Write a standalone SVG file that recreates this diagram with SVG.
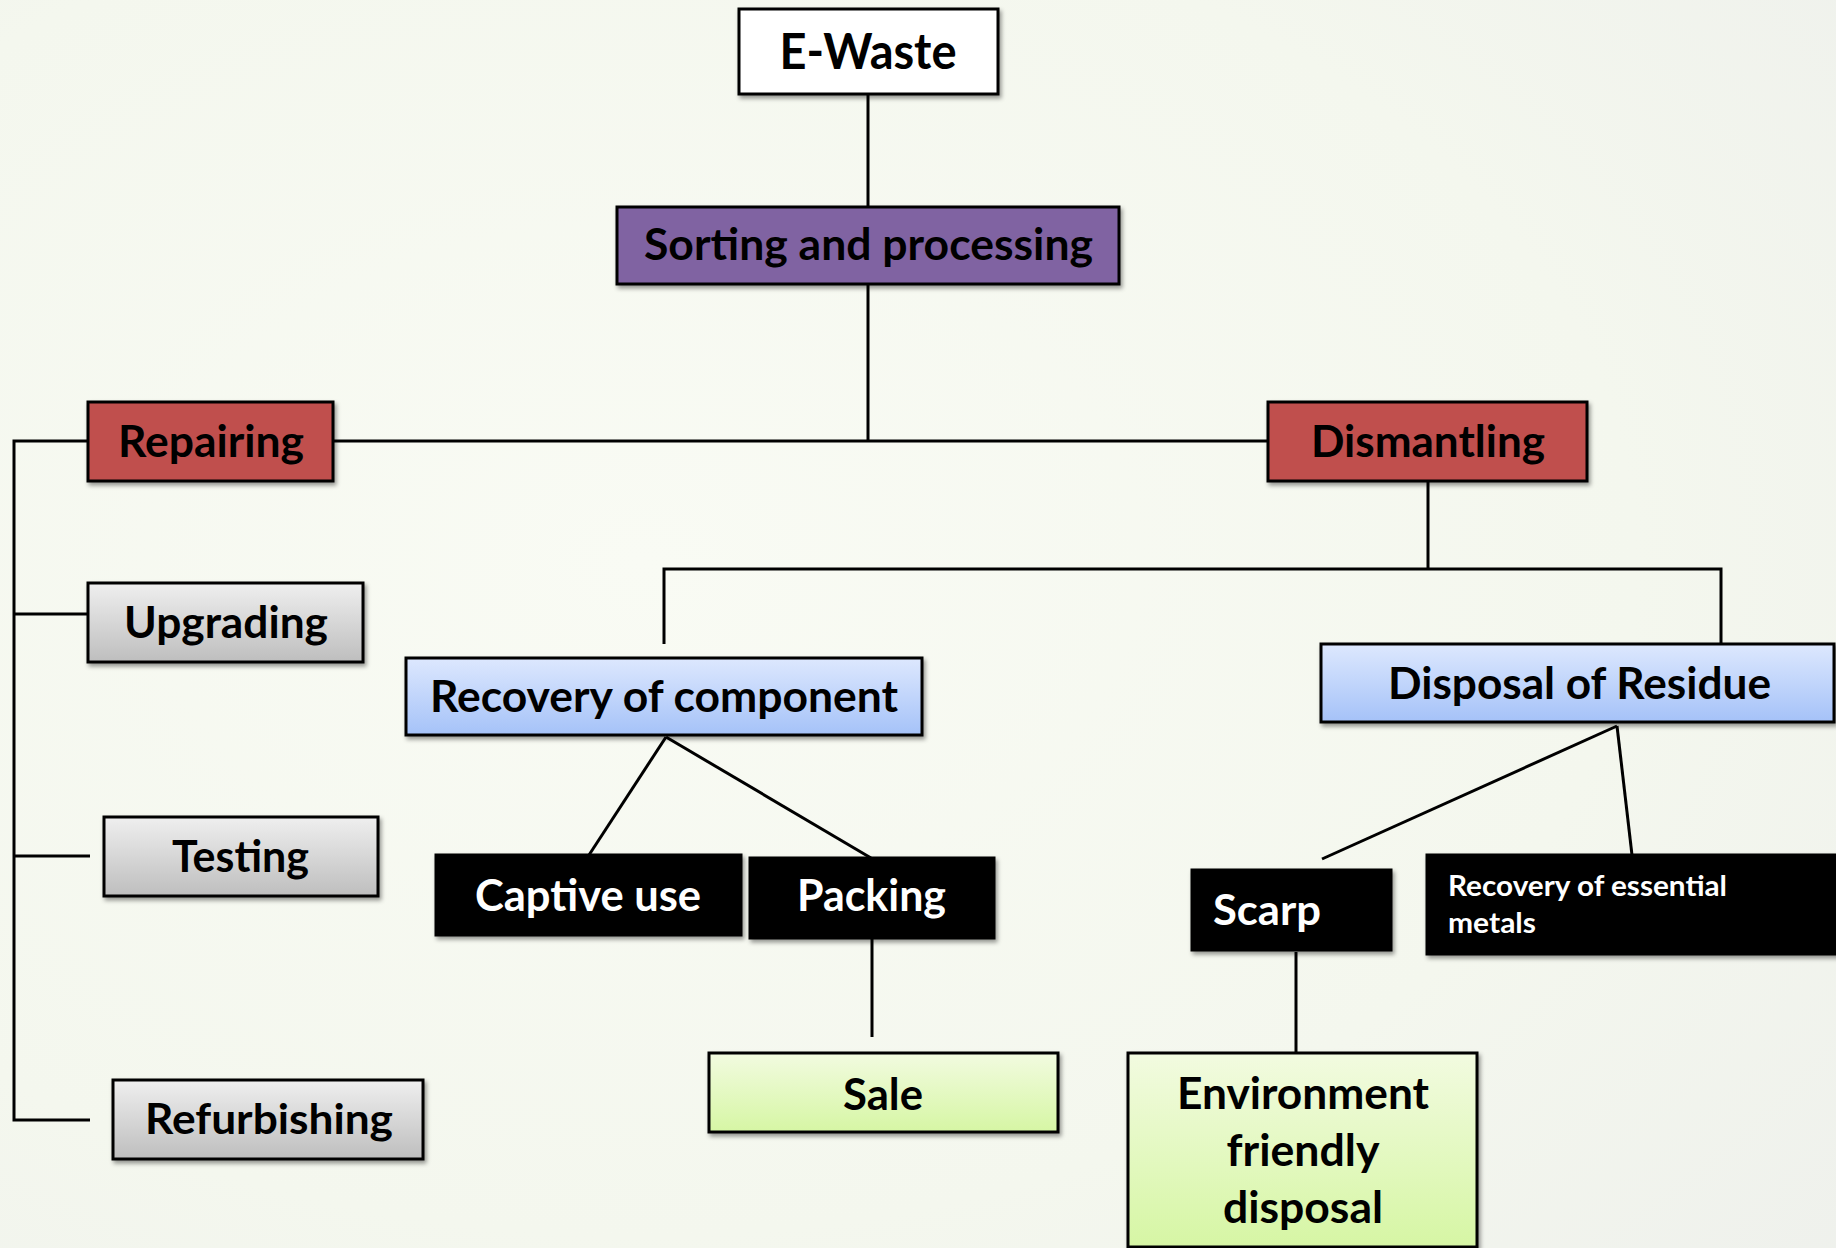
<svg xmlns="http://www.w3.org/2000/svg" width="1836" height="1248" viewBox="0 0 1836 1248">
  <defs>
    <radialGradient id="bg" cx="0.35" cy="0.45" r="0.9">
      <stop offset="0" stop-color="#f9fbf4"/>
      <stop offset="0.6" stop-color="#f4f7ee"/>
      <stop offset="1" stop-color="#eef0ec"/>
    </radialGradient>
    <linearGradient id="gGray" x1="0" y1="0" x2="0" y2="1">
      <stop offset="0" stop-color="#efefef"/>
      <stop offset="1" stop-color="#bebebe"/>
    </linearGradient>
    <linearGradient id="gBlue" x1="0" y1="0" x2="0" y2="1">
      <stop offset="0" stop-color="#dde8fe"/>
      <stop offset="1" stop-color="#a5c2f8"/>
    </linearGradient>
    <linearGradient id="gGreen" x1="0" y1="0" x2="0" y2="1">
      <stop offset="0" stop-color="#f2fbe0"/>
      <stop offset="1" stop-color="#d6f6a4"/>
    </linearGradient>
    <filter id="sh" x="-10%" y="-10%" width="125%" height="135%">
      <feDropShadow dx="2" dy="3" stdDeviation="2" flood-color="#000" flood-opacity="0.4"/>
    </filter>
  </defs>
  <style>
    .box { stroke: #000; stroke-width: 3; filter: url(#sh); }
    .t { font-family: Lato, "Open Sans", "Liberation Sans", sans-serif; font-weight: 700; fill: #000; text-anchor: middle; }
    .s { text-anchor: start; }
    .w { fill: #fff; }
    .red { fill: #c0504d; }
    .purple { fill: #8064a2; }
    .gray { fill: url(#gGray); }
    .blue { fill: url(#gBlue); }
    .green { fill: url(#gGreen); }
    .black { fill: #000; }
    .white { fill: #fff; }
    .c { fill: none; stroke: #000; stroke-width: 3; }
  </style>

  <rect x="0" y="0" width="1836" height="1248" fill="url(#bg)"/>

  <g id="connectors">
    <line class="c" x1="868" y1="94" x2="868" y2="207"/>
    <line class="c" x1="868" y1="284" x2="868" y2="441"/>
    <line class="c" x1="333" y1="441" x2="1268" y2="441"/>
    <polyline class="c" points="88,441 14,441 14,1120 90,1120"/>
    <line class="c" x1="14" y1="614" x2="88" y2="614"/>
    <line class="c" x1="14" y1="856" x2="90" y2="856"/>
    <line class="c" x1="1428" y1="481" x2="1428" y2="569"/>
    <polyline class="c" points="664,644 664,569 1721,569 1721,644"/>
    <line class="c" x1="666" y1="737" x2="589" y2="855"/>
    <line class="c" x1="666" y1="737" x2="871" y2="858"/>
    <line class="c" x1="872" y1="938" x2="872" y2="1037"/>
    <line class="c" x1="1617" y1="726" x2="1322" y2="859"/>
    <line class="c" x1="1617" y1="726" x2="1632" y2="855"/>
    <line class="c" x1="1296" y1="952" x2="1296" y2="1053"/>
  </g>

  <g id="ewaste">
    <rect class="box white" x="739" y="9" width="259" height="85"/>
    <text class="t" x="868" y="69" font-size="49" textLength="177" lengthAdjust="spacingAndGlyphs">E-Waste</text>
  </g>
  <g id="sorting">
    <rect class="box purple" x="617" y="207" width="502" height="77"/>
    <text class="t" x="868.5" y="260" font-size="43" textLength="449" lengthAdjust="spacingAndGlyphs">Sorting and processing</text>
  </g>
  <g id="repairing">
    <rect class="box red" x="88" y="402" width="245" height="79"/>
    <text class="t" x="211" y="457" font-size="44" textLength="186" lengthAdjust="spacingAndGlyphs">Repairing</text>
  </g>
  <g id="dismantling">
    <rect class="box red" x="1268" y="402" width="319" height="79"/>
    <text class="t" x="1428" y="457" font-size="43" textLength="234" lengthAdjust="spacingAndGlyphs">Dismantling</text>
  </g>
  <g id="upgrading">
    <rect class="box gray" x="88" y="583" width="275" height="79"/>
    <text class="t" x="226" y="638" font-size="44" textLength="204" lengthAdjust="spacingAndGlyphs">Upgrading</text>
  </g>
  <g id="testing">
    <rect class="box gray" x="104" y="817" width="274" height="79"/>
    <text class="t" x="240.5" y="872" font-size="43" textLength="137" lengthAdjust="spacingAndGlyphs">Testing</text>
  </g>
  <g id="refurbishing">
    <rect class="box gray" x="113" y="1080" width="310" height="79"/>
    <text class="t" x="269" y="1134" font-size="42" textLength="248" lengthAdjust="spacingAndGlyphs">Refurbishing</text>
  </g>
  <g id="recovery-component">
    <rect class="box blue" x="406" y="658" width="516" height="77"/>
    <text class="t" x="664" y="712" font-size="43" textLength="468" lengthAdjust="spacingAndGlyphs">Recovery of component</text>
  </g>
  <g id="disposal-residue">
    <rect class="box blue" x="1321" y="644" width="513" height="78"/>
    <text class="t" x="1579.5" y="699" font-size="43" textLength="383" lengthAdjust="spacingAndGlyphs">Disposal of Residue</text>
  </g>
  <g id="captive-use">
    <rect class="box black" x="436" y="855" width="305" height="80"/>
    <text class="t white" x="588" y="911" font-size="43" textLength="226" lengthAdjust="spacingAndGlyphs">Captive use</text>
  </g>
  <g id="packing">
    <rect class="box black" x="750" y="858" width="244" height="80"/>
    <text class="t white" x="871.5" y="911" font-size="43" textLength="149" lengthAdjust="spacingAndGlyphs">Packing</text>
  </g>
  <g id="scarp">
    <rect class="box black" x="1192" y="870" width="199" height="80"/>
    <text class="t white s" x="1213" y="925" font-size="42" textLength="108" lengthAdjust="spacingAndGlyphs">Scarp</text>
  </g>
  <g id="recovery-metals">
    <rect class="box black" x="1427" y="855" width="412" height="99"/>
    <text class="t white s" x="1448" y="896" font-size="28" textLength="279" lengthAdjust="spacingAndGlyphs">Recovery of essential</text>
    <text class="t white s" x="1448" y="933" font-size="28" textLength="88" lengthAdjust="spacingAndGlyphs">metals</text>
  </g>
  <g id="sale">
    <rect class="box green" x="709" y="1053" width="349" height="79"/>
    <text class="t" x="883" y="1110" font-size="43" textLength="80" lengthAdjust="spacingAndGlyphs">Sale</text>
  </g>
  <g id="env-disposal">
    <rect class="box green" x="1128" y="1053" width="349" height="194"/>
    <text class="t" x="1303" y="1109" font-size="43" textLength="252" lengthAdjust="spacingAndGlyphs">Environment</text>
    <text class="t" x="1303" y="1166" font-size="43" textLength="153" lengthAdjust="spacingAndGlyphs">friendly</text>
    <text class="t" x="1303" y="1223" font-size="43" textLength="160" lengthAdjust="spacingAndGlyphs">disposal</text>
  </g>
</svg>
